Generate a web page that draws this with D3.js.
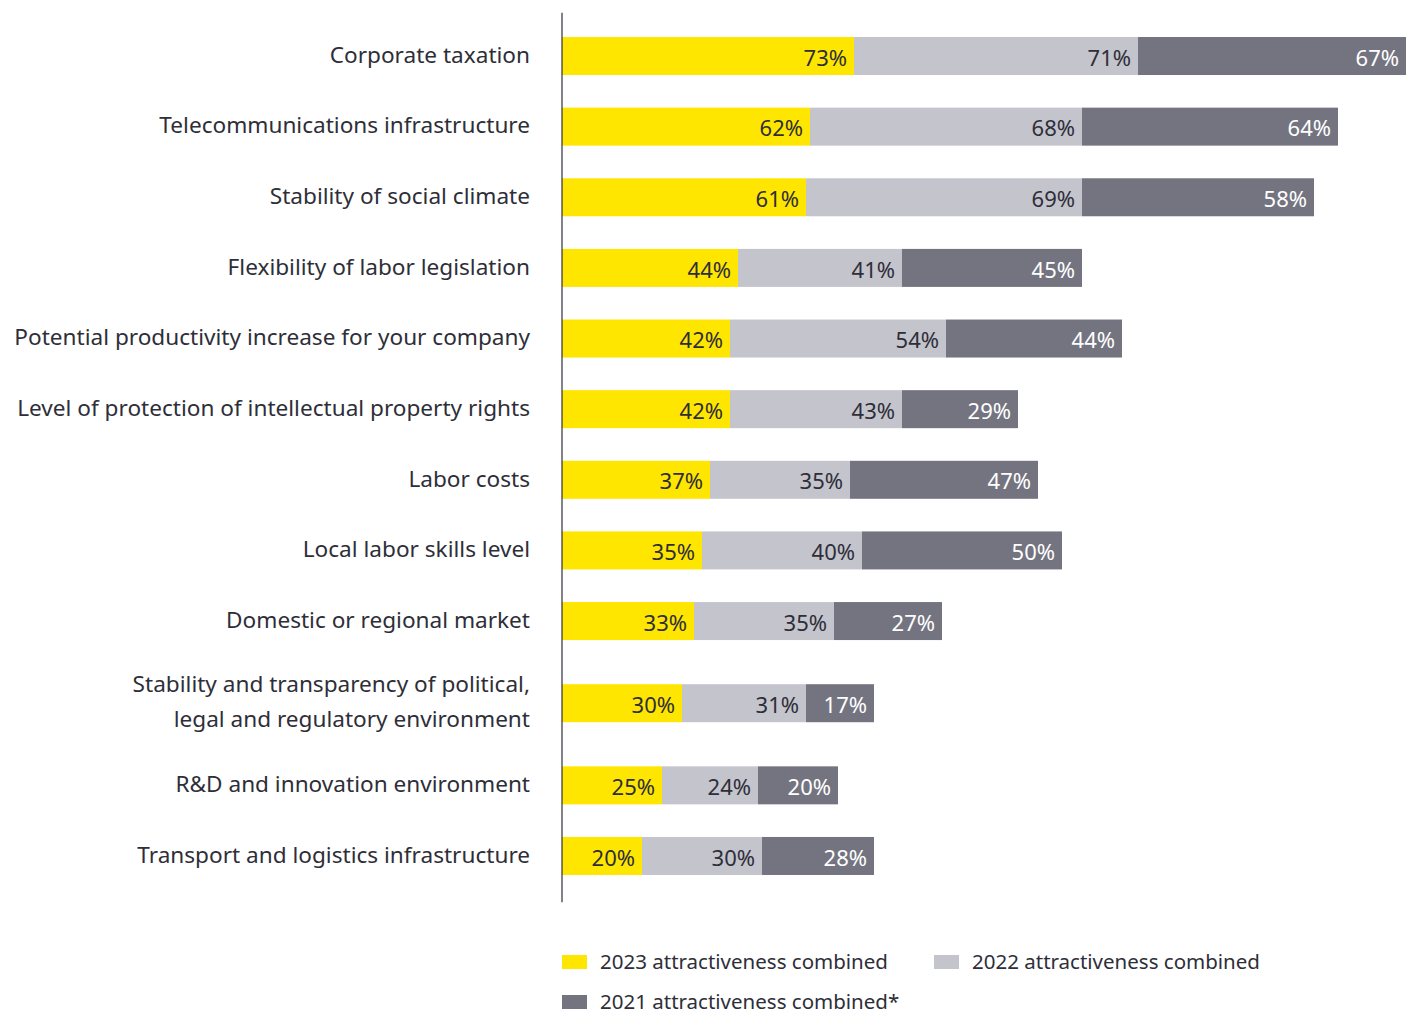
<!DOCTYPE html>
<html>
<head>
<meta charset="utf-8">
<script src="https://cdn.jsdelivr.net/npm/d3@7"></script>
<style>
  body { margin: 0; background: #fff; }
  text { font-family: "Noto Sans", "Open Sans", sans-serif; }
</style>
</head>
<body>
<div class="wrapper"></div>
<script>
const width = 1416;
const height = 1015;

// Row labels (one array entry per line)
const categories = [
  ["Corporate taxation"],
  ["Telecommunications infrastructure"],
  ["Stability of social climate"],
  ["Flexibility of labor legislation"],
  ["Potential productivity increase for your company"],
  ["Level of protection of intellectual property rights"],
  ["Labor costs"],
  ["Local labor skills level"],
  ["Domestic or regional market"],
  ["Stability and transparency of political,", "legal and regulatory environment"],
  ["R&D and innovation environment"],
  ["Transport and logistics infrastructure"]
];

const values2023 = [73, 62, 61, 44, 42, 42, 37, 35, 33, 30, 25, 20];
const values2022 = [71, 68, 69, 41, 54, 43, 35, 40, 35, 31, 24, 30];
const values2021 = [67, 64, 58, 45, 44, 29, 47, 50, 27, 17, 20, 28];

const seriesNames = [
  "2023 attractiveness combined",
  "2022 attractiveness combined",
  "2021 attractiveness combined*"
];

const colors = ["#FFE600", "#C4C4CD", "#747480"];
const labelColors = ["#2E2E38", "#2E2E38", "#FFFFFF"];
const textColor = "#2E2E38";

const rows = categories.map((lines, i) => ({
  lines,
  vals: [values2023[i], values2022[i], values2021[i]]
}));

// Row slots: two-line labels take a bit more vertical room
const extraPerLine = 0.326;
let acc = 0;
rows.forEach((r) => {
  const h = 1 + (r.lines.length - 1) * extraPerLine;
  r.center = acc + h / 2;
  acc += h;
});
const totalSlots = acc;

const rowStep = 70.63;
const chartTop = 20.7;
const y = d3.scaleLinear()
  .domain([0, totalSlots])
  .range([chartTop, chartTop + totalSlots * rowStep]);

const maxTotal = d3.max(rows, (r) => d3.sum(r.vals));
const x = d3.scaleLinear().domain([0, maxTotal]).range([562, 1406]);

const barHeight = 38;

const svg = d3
  .select(".wrapper")
  .append("svg")
  .attr("width", width)
  .attr("height", height)
  .attr("viewBox", [0, 0, width, height]);

// Segments
const segs = [];
rows.forEach((r) => {
  let start = 0;
  r.vals.forEach((v, k) => {
    segs.push({ row: r, k, v, x0: start, x1: start + v });
    start += v;
  });
});

svg.append("g")
  .selectAll("rect")
  .data(segs)
  .join("rect")
  .attr("x", (d) => x(d.x0))
  .attr("width", (d) => x(d.x1) - x(d.x0))
  .attr("y", (d) => y(d.row.center) - barHeight / 2)
  .attr("height", barHeight)
  .attr("fill", (d) => colors[d.k]);

svg.append("g")
  .selectAll("text")
  .data(segs)
  .join("text")
  .attr("x", (d) => x(d.x1) - 7)
  .attr("y", (d) => y(d.row.center) + 2)
  .attr("dy", "0.35em")
  .attr("text-anchor", "end")
  .attr("font-size", 22)
  .attr("fill", (d) => labelColors[d.k])
  .text((d) => `${d.v}%`);

// Axis line
svg.append("line")
  .attr("x1", x(0))
  .attr("x2", x(0))
  .attr("y1", y.range()[0] - 8)
  .attr("y2", y.range()[1] + 11)
  .attr("stroke", textColor)
  .attr("stroke-width", 1.2);

// Category labels
const lineGap = 35;
const cat = svg.append("g")
  .selectAll("text")
  .data(rows)
  .join("text")
  .attr("text-anchor", "end")
  .attr("font-size", 22.6)
  .attr("fill", textColor);

cat.selectAll("tspan")
  .data((r) => r.lines.map((t, j) => ({ t, j, r })))
  .join("tspan")
  .attr("x", 530)
  .attr("y", (d) => y(d.r.center) + (d.j - (d.r.lines.length - 1) / 2) * lineGap)
  .attr("dy", "0.3em")
  .text((d) => d.t);

// Legend
const legendItems = seriesNames.map((name, i) => ({
  name,
  color: colors[i],
  col: i === 1 ? 1 : 0,
  line: i === 2 ? 1 : 0
}));

const legend = svg.append("g")
  .selectAll("g")
  .data(legendItems)
  .join("g")
  .attr("transform", (d) => `translate(${d.col ? 934 : 562},${962 + d.line * 40})`);

legend.append("rect")
  .attr("y", -7)
  .attr("width", 25)
  .attr("height", 14)
  .attr("fill", (d) => d.color);

legend.append("text")
  .attr("x", 38)
  .attr("dy", "0.33em")
  .attr("font-size", 20.5)
  .attr("fill", textColor)
  .text((d) => d.name);
</script>
</body>
</html>
